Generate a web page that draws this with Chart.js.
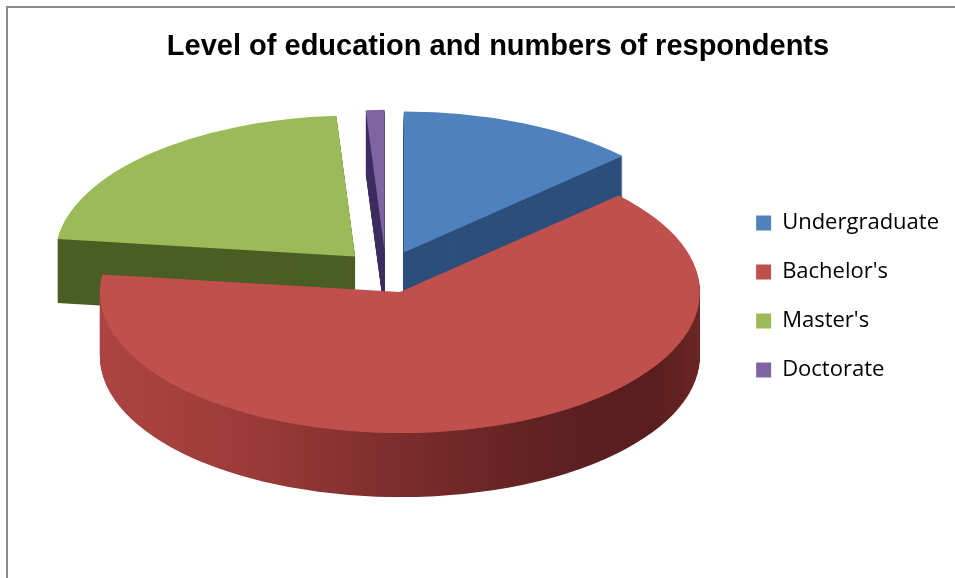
<!DOCTYPE html>
<html><head><meta charset="utf-8">
<script src="https://cdn.jsdelivr.net/npm/chart.js@4.4.1/dist/chart.umd.min.js"></script>
<style>
html,body{margin:0;padding:0;background:#fff;}
#wrap{position:relative;width:955px;height:578px;overflow:hidden;}
#frame{position:absolute;left:6px;top:6px;width:980px;height:600px;border-left:2px solid #8a8a8a;border-top:2px solid #8a8a8a;}
canvas{position:absolute;left:0;top:0;}
</style></head><body>
<div id="wrap"><div id="frame"></div><canvas id="c" width="955" height="578"></canvas></div>
<script>
const chartTitle = 'Level of education and numbers of respondents';
const categories = ["Undergraduate", "Bachelor's", "Master's", "Doctorate"];
const respondents = [13, 64, 22, 1];
const topColors = ['#4f81bd', '#c0504d', '#9bbb59', '#8064a2'];
const sideColors = ['#2c4f7c', null, '#4b5e24', '#3f2f62'];

// 3D look parameters (screen pixels)
const CX = 386, CY = 272, RX = 300, RY = 141, DEPTH = 64, EXPLODE = 0.15;

const pie3d = {
  id: 'pie3d',
  beforeDatasetDraw(chart, args) {
    const ctx = chart.ctx;
    const arcs = args.meta.data;
    if (!arcs.length) return;
    const R = arcs[0].outerRadius, x0 = arcs[0].x, y0 = arcs[0].y;
    const sx = RX / R, sy = RY / R;
    const grad = ctx.createLinearGradient(x0 - R, 0, x0 + R, 0);
    grad.addColorStop(0, '#ac4541');
    grad.addColorStop(0.25, '#9b3b39');
    grad.addColorStop(0.5, '#7b2d2c');
    grad.addColorStop(0.75, '#5f2121');
    grad.addColorStop(0.92, '#581d1d');
    grad.addColorStop(1, '#6b2625');
    ctx.save();
    ctx.translate(CX, CY);
    ctx.scale(sx, sy);
    ctx.translate(-x0, -y0);
    const drawArc = (arc, color, dy) => {
      const mid = (arc.startAngle + arc.endAngle) / 2;
      const orig = arc.options;
      arc.options = Object.assign({}, orig, {backgroundColor: color, borderWidth: 0, offset: 0});
      ctx.save();
      ctx.translate(Math.cos(mid) * EXPLODE * R, Math.sin(mid) * EXPLODE * R + dy);
      arc.draw(ctx);
      ctx.restore();
      arc.options = orig;
    };
    for (let l = DEPTH; l >= 1; l--) {
      arcs.forEach((a, i) => drawArc(a, i === 1 ? grad : sideColors[i], l / sy));
    }
    arcs.forEach((a, i) => drawArc(a, topColors[i], 0));
    ctx.restore();
    return false;
  }
};

new Chart(document.getElementById('c'), {
  type: 'pie',
  data: {
    labels: categories,
    datasets: [{
      data: respondents,
      backgroundColor: topColors,
      borderWidth: 0
    }]
  },
  options: {
    responsive: false,
    animation: false,
    layout: {padding: {top: 0, right: 6, bottom: -15, left: 47}},
    plugins: {
      title: {
        display: true,
        text: chartTitle,
        color: '#000',
        font: {family: 'Liberation Sans', size: 29, weight: 'bold'},
        padding: {top: 30, bottom: 56}
      },
      legend: {
        position: 'right',
        labels: {
          boxWidth: 15,
          boxHeight: 15,
          padding: 27,
          color: '#000',
          font: {family: 'Open Sans', size: 22}
        }
      },
      tooltip: {enabled: false}
    }
  },
  plugins: [pie3d]
});
</script>
</body></html>
